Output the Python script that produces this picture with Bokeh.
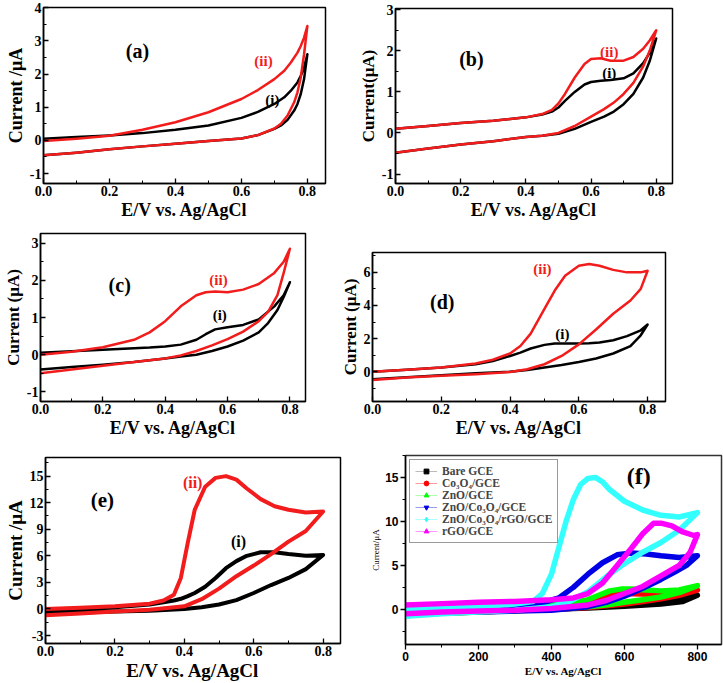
import math
from bokeh.plotting import figure
from bokeh.models import (Range1d, SingleIntervalTicker, NumeralTickFormatter,
                          Label, Legend, LegendItem)
from bokeh.layouts import column, row
from bokeh.embed import file_html
from bokeh.resources import INLINE

SERIF = "Liberation Serif"
SANS = "Liberation Sans"
RED = "#f21c1c"
BLACK = "#000000"
NAN = float("nan")

# ---------------- panel (a) ----------------
A_FWD_V = [0.0, 0.1, 0.2, 0.3, 0.4, 0.5, 0.6, 0.65, 0.7, 0.73, 0.75, 0.77, 0.78, 0.79, 0.80]
A1_FWD = [0.05, 0.10, 0.15, 0.22, 0.32, 0.45, 0.68, 0.86, 1.10, 1.30, 1.50, 1.75, 1.95, 2.20, 2.60]
A2_FWD = [-0.02, 0.05, 0.14, 0.32, 0.55, 0.85, 1.25, 1.52, 1.85, 2.10, 2.35, 2.65, 2.85, 3.10, 3.45]
A_REV_V = [0.80, 0.79, 0.78, 0.77, 0.76, 0.74, 0.72, 0.70, 0.65, 0.60, 0.50, 0.40, 0.30, 0.20, 0.10, 0.0]
A1_REV = [2.60, 1.85, 1.40, 1.10, 0.90, 0.62, 0.45, 0.35, 0.16, 0.06, -0.02, -0.10, -0.18, -0.27, -0.37, -0.45]
A2_REV = [3.45, 2.60, 1.90, 1.45, 1.15, 0.75, 0.50, 0.36, 0.16, 0.06, -0.02, -0.10, -0.18, -0.27, -0.37, -0.45]

# ---------------- panel (b) ----------------
B_FWD_V = [0.0, 0.1, 0.2, 0.3, 0.4, 0.45, 0.48, 0.5, 0.52, 0.55, 0.58, 0.6, 0.63, 0.66, 0.7, 0.73, 0.76, 0.78, 0.8]
B1_FWD = [0.10, 0.17, 0.24, 0.30, 0.38, 0.45, 0.52, 0.62, 0.78, 1.00, 1.18, 1.24, 1.27, 1.29, 1.33, 1.45, 1.70, 1.95, 2.30]
B2_FWD = [0.10, 0.17, 0.24, 0.30, 0.38, 0.46, 0.56, 0.72, 0.95, 1.35, 1.68, 1.80, 1.82, 1.76, 1.76, 1.85, 2.05, 2.25, 2.50]
B_REV_V = [0.8, 0.78, 0.76, 0.73, 0.7, 0.67, 0.64, 0.6, 0.55, 0.5, 0.45, 0.4, 0.3, 0.2, 0.1, 0.0]
B1_REV = [2.30, 1.75, 1.35, 0.95, 0.70, 0.52, 0.40, 0.27, 0.10, -0.02, -0.07, -0.10, -0.20, -0.28, -0.38, -0.48]
B2_REV = [2.50, 2.00, 1.62, 1.22, 0.95, 0.74, 0.58, 0.40, 0.17, 0.00, -0.07, -0.10, -0.20, -0.28, -0.38, -0.48]

# ---------------- panel (c) ----------------
C_FWD_V = [0.0, 0.1, 0.2, 0.3, 0.35, 0.4, 0.45, 0.5, 0.53, 0.56, 0.6, 0.65, 0.7, 0.75, 0.78, 0.8]
C1_FWD = [0.05, 0.09, 0.13, 0.17, 0.19, 0.22, 0.27, 0.40, 0.55, 0.68, 0.74, 0.80, 0.95, 1.30, 1.60, 1.95]
C2_FWD = [0.0, 0.08, 0.20, 0.40, 0.60, 0.90, 1.30, 1.60, 1.68, 1.70, 1.68, 1.75, 1.90, 2.20, 2.50, 2.85]
C_REV_V = [0.8, 0.78, 0.76, 0.73, 0.7, 0.65, 0.6, 0.55, 0.5, 0.45, 0.4, 0.3, 0.2, 0.1, 0.0]
C1_REV = [1.95, 1.55, 1.20, 0.85, 0.60, 0.38, 0.22, 0.10, 0.00, -0.05, -0.10, -0.20, -0.27, -0.33, -0.40]
C2_REV = [2.85, 2.20, 1.60, 1.15, 0.90, 0.62, 0.42, 0.25, 0.10, -0.02, -0.10, -0.20, -0.30, -0.40, -0.50]

# ---------------- panel (d) ----------------
D_FWD_V = [0.0, 0.1, 0.2, 0.3, 0.35, 0.4, 0.43, 0.46, 0.5, 0.53, 0.56, 0.6, 0.63, 0.66, 0.7, 0.74, 0.78, 0.8]
D1_FWD = [0.0, 0.12, 0.25, 0.45, 0.65, 0.95, 1.15, 1.40, 1.62, 1.70, 1.70, 1.70, 1.72, 1.76, 1.90, 2.15, 2.50, 2.85]
D2_FWD = [0.0, 0.12, 0.25, 0.50, 0.72, 1.10, 1.55, 2.30, 3.80, 4.90, 5.80, 6.40, 6.50, 6.40, 6.15, 6.00, 6.00, 6.10]
D_REV_V = [0.8, 0.78, 0.75, 0.7, 0.65, 0.6, 0.55, 0.5, 0.45, 0.4, 0.3, 0.2, 0.1, 0.0]
D1_REV = [2.85, 2.20, 1.55, 1.10, 0.80, 0.58, 0.40, 0.25, 0.10, 0.00, -0.10, -0.22, -0.33, -0.45]
D2_REV = [6.10, 5.00, 4.30, 3.50, 2.55, 1.65, 0.95, 0.45, 0.15, -0.02, -0.15, -0.25, -0.35, -0.50]

# ---------------- panel (e) ----------------
E_FWD_V = [0.0, 0.1, 0.2, 0.3, 0.34, 0.37, 0.39, 0.41, 0.43, 0.46, 0.49, 0.52, 0.55, 0.58, 0.62, 0.66, 0.7, 0.75, 0.8]
E1_FWD = [-0.2, 0.0, 0.2, 0.5, 0.75, 0.95, 1.15, 1.45, 1.8, 2.5, 3.5, 4.6, 5.4, 6.0, 6.4, 6.4, 6.2, 6.0, 6.1]
E2_FWD = [0.0, 0.15, 0.3, 0.6, 0.95, 1.6, 3.5, 7.5, 11.2, 13.8, 14.8, 15.0, 14.6, 13.6, 12.4, 11.6, 11.2, 10.9, 11.0]
E_REV_V = [0.8, 0.75, 0.7, 0.65, 0.6, 0.55, 0.5, 0.45, 0.4, 0.3, 0.2, 0.1, 0.0]
E1_REV = [6.10, 4.50, 3.50, 2.70, 1.80, 1.00, 0.50, 0.20, 0.00, -0.20, -0.30, -0.40, -0.50]
E2_REV = [11.0, 8.8, 7.6, 6.2, 4.9, 3.7, 2.3, 1.1, 0.3, -0.1, -0.3, -0.5, -0.7]

# ---------------- panel (f) (mV) ----------------
F_NAMES = ["Bare GCE", "Co₃O₄/GCE", "ZnO/GCE", "ZnO/Co₃O₄/GCE", "ZnO/Co₃O₄/rGO/GCE", "rGO/GCE"]
F_COLORS = ["#000000", "#ff0000", "#00ff00", "#0000e6", "#33ffff", "#ff00ff"]
F_LEG_LINE = ["#bbbbbb", "#ff9999", "#aaffaa", "#9999ee", "#aaffff", "#ff99ff"]
F_MARKERS = ["square", "circle", "triangle", "inverted_triangle", "diamond", "triangle"]
F_ANGLES = [0, 0, 0, 0, 0, math.pi / 2]

F_BARE_FWD_V = [0, 200, 400, 500, 600, 700, 760, 800]
F_BARE_FWD = [0.0, 0.15, 0.35, 0.5, 0.7, 0.9, 1.2, 1.6]
F_BARE_REV_V = [800, 760, 700, 600, 500, 400, 200, 0]
F_BARE_REV = [1.6, 0.9, 0.6, 0.35, 0.15, 0.0, -0.2, -0.4]

F_CO_FWD_V = [0, 200, 300, 400, 450, 500, 550, 600, 650, 700, 760, 800]
F_CO_FWD = [0.0, 0.2, 0.4, 0.5, 0.6, 0.95, 1.5, 1.8, 1.75, 1.65, 1.8, 2.2]
F_CO_REV_V = [800, 750, 700, 650, 600, 550, 500, 400, 300, 200, 100, 0]
F_CO_REV = [2.2, 1.6, 1.2, 0.9, 0.6, 0.4, 0.2, 0.0, -0.15, -0.3, -0.45, -0.6]

F_ZNO_FWD_V = [0, 200, 300, 400, 450, 500, 530, 560, 590, 620, 660, 700, 750, 800]
F_ZNO_FWD = [0.0, 0.2, 0.4, 0.55, 0.7, 1.1, 1.6, 2.1, 2.3, 2.3, 2.2, 2.1, 2.2, 2.7]
F_ZNO_REV_V = [800, 750, 700, 650, 600, 550, 500, 400, 300, 200, 100, 0]
F_ZNO_REV = [2.7, 1.9, 1.4, 1.1, 0.8, 0.5, 0.3, 0.0, -0.15, -0.3, -0.45, -0.6]

F_ZC_FWD_V = [0, 100, 200, 300, 380, 420, 460, 500, 540, 580, 620, 660, 700, 750, 800]
F_ZC_FWD = [-0.3, -0.05, 0.2, 0.5, 0.8, 1.3, 2.5, 4.0, 5.3, 6.2, 6.4, 6.3, 6.1, 5.9, 6.1]
F_ZC_REV_V = [800, 770, 740, 700, 650, 600, 550, 500, 400, 300, 200, 100, 0]
F_ZC_REV = [6.1, 5.0, 4.3, 3.4, 2.4, 1.5, 0.8, 0.3, -0.1, -0.2, -0.3, -0.4, -0.5]

F_ZCR_FWD_V = [0, 100, 200, 300, 350, 375, 400, 420, 440, 460, 480, 500, 520, 540, 560, 600, 650, 700, 750, 800]
F_ZCR_FWD = [0.0, 0.15, 0.3, 0.6, 0.9, 1.8, 4.0, 7.0, 10.0, 12.5, 14.2, 14.9, 15.0, 14.5, 13.6, 12.3, 11.3, 10.7, 10.5, 11.0]
F_ZCR_REV_V = [800, 750, 700, 650, 600, 550, 500, 450, 400, 300, 200, 100, 0]
F_ZCR_REV = [11.0, 9.0, 7.6, 6.5, 5.2, 3.7, 2.0, 0.9, 0.3, -0.1, -0.3, -0.5, -0.8]

F_RGO_FWD_V = [0, 100, 200, 300, 400, 460, 500, 540, 580, 620, 650, 680, 700, 730, 760, 790, 800]
F_RGO_FWD = [0.5, 0.65, 0.8, 0.9, 1.1, 1.3, 1.8, 3.0, 5.0, 7.0, 8.6, 9.8, 9.8, 9.5, 8.8, 8.4, 8.5]
F_RGO_REV_V = [800, 780, 750, 700, 650, 600, 550, 500, 400, 300, 200, 100, 0]
F_RGO_REV = [8.5, 6.5, 5.0, 3.8, 2.6, 1.8, 1.0, 0.5, 0.1, -0.1, -0.2, -0.3, -0.5]

X_TITLE = "E/V vs. Ag/AgCl"


def base(w, h, xr, yr, mb, xint, yint, xfmt, tick_fs, ylab, ylab_fs, xlab_fs,
         tick_font=SERIF, ticks_out=False, ylab_style="bold"):
    p = figure(width=w, height=h, x_range=Range1d(*xr), y_range=Range1d(*yr),
               output_backend="svg", toolbar_location=None,
               min_border_left=mb[0], min_border_right=mb[1],
               min_border_top=mb[2], min_border_bottom=mb[3])
    p.xgrid.visible = False
    p.ygrid.visible = False
    p.outline_line_color = "black"
    p.outline_line_width = 1.5
    p.outline_line_alpha = 1.0
    p.background_fill_color = "white"
    p.border_fill_color = "white"
    for ax, iv, fmt in ((p.xaxis[0], xint, xfmt), (p.yaxis[0], yint, "0")):
        ax.ticker = SingleIntervalTicker(interval=iv, num_minor_ticks=2)
        ax.formatter = NumeralTickFormatter(format=fmt)
        if ticks_out:
            ax.major_tick_in, ax.major_tick_out = 0, 5
            ax.minor_tick_in, ax.minor_tick_out = 0, 3
        else:
            ax.major_tick_in, ax.major_tick_out = 5, 0
            ax.minor_tick_in, ax.minor_tick_out = 3, 0
        ax.major_tick_line_width = 1.3
        ax.minor_tick_line_width = 1.0
        ax.axis_line_width = 1.5
        ax.major_label_text_font = tick_font
        ax.major_label_text_font_style = "bold"
        ax.major_label_text_font_size = f"{tick_fs}px"
        ax.major_label_text_color = "black"
        ax.major_label_standoff = 2
        ax.axis_label_standoff = 1
        ax.axis_label_text_font = SERIF
        ax.axis_label_text_font_style = "bold"
        ax.axis_label_text_color = "black"
    p.yaxis.axis_label = ylab
    p.yaxis.axis_label_text_font_size = f"{ylab_fs}px"
    p.yaxis.axis_label_text_font_style = ylab_style
    p.xaxis.axis_label = X_TITLE
    p.xaxis.axis_label_text_font_size = f"{xlab_fs}px"
    return p


def loop(p, fv, fi, rv, ri, color, lw):
    p.line(x=fv + rv, y=fi + ri, line_color=color, line_width=lw, line_join="round")


def tag(p, x, y, text, size, color="black"):
    p.add_layout(Label(x=x, y=y, text=text, text_font=SERIF, text_font_style="bold",
                       text_font_size=f"{size}px", text_color=color,
                       text_align="center", text_baseline="middle"))


# (a)
pa = base(355, 222, (0, 0.855), (-1.3, 4.01), (43, 30, 7, 34), 0.2, 1, "0.0", 14,
          "Current /μA", 18, 18)
loop(pa, A_FWD_V, A1_FWD, A_REV_V, A1_REV, BLACK, 2.5)
loop(pa, A_FWD_V, A2_FWD, A_REV_V, A2_REV, RED, 2.5)
tag(pa, 0.285, 2.7, "(a)", 20)
tag(pa, 0.667, 2.4, "(ii)", 15, RED)
tag(pa, 0.694, 1.23, "(i)", 15)

# (b)
pb = base(368, 222, (0, 0.85), (-1.23, 3.03), (35, 51, 8, 34), 0.2, 1, "0.0", 14,
          "Current(μA)", 17, 18)
loop(pb, B_FWD_V, B1_FWD, B_REV_V, B1_REV, BLACK, 2.5)
loop(pb, B_FWD_V, B2_FWD, B_REV_V, B2_REV, RED, 2.5)
tag(pb, 0.233, 1.79, "(b)", 20)
tag(pb, 0.656, 1.98, "(ii)", 15, RED)
tag(pb, 0.656, 1.47, "(i)", 15)

# (c)
pc = base(335, 218, (0, 0.85), (-1.26, 3.26), (38, 30, 11, 35), 0.2, 1, "0.0", 14,
          "Current (μA)", 17, 18)
loop(pc, C_FWD_V, C1_FWD, C_REV_V, C1_REV, BLACK, 2.5)
loop(pc, C_FWD_V, C2_FWD, C_REV_V, C2_REV, RED, 2.5)
tag(pc, 0.254, 1.87, "(c)", 20)
tag(pc, 0.571, 2.0, "(ii)", 15, RED)
tag(pc, 0.575, 1.07, "(i)", 15)

# (d)
pd = base(388, 218, (0, 0.852), (-1.8, 7.2), (37, 58, 30, 35), 0.2, 2, "0.0", 14,
          "Current (μA)", 17, 18)
loop(pd, D_FWD_V, D1_FWD, D_REV_V, D1_REV, BLACK, 2.5)
loop(pd, D_FWD_V, D2_FWD, D_REV_V, D2_REV, RED, 2.5)
tag(pd, 0.203, 4.2, "(d)", 20)
tag(pd, 0.494, 6.2, "(ii)", 15, RED)
tag(pd, 0.552, 2.3, "(i)", 15)

# (e)
pe = base(368, 243, (0, 0.85), (-3.9, 17.1), (45, 28, 17, 35), 0.2, 3, "0.0", 14,
          "Current /μA", 19, 19)
loop(pe, E_FWD_V, E1_FWD, E_REV_V, E1_REV, BLACK, 4)
loop(pe, E_FWD_V, E2_FWD, E_REV_V, E2_REV, RED, 4)
tag(pe, 0.164, 12.3, "(e)", 21)
tag(pe, 0.424, 14.3, "(ii)", 16, RED)
tag(pe, 0.556, 7.6, "(i)", 16)

# (f)
pf = base(355, 243, (0, 866), (-4, 17.5), (36, 2, 15, 39), 200, 5, "0", 12,
          "Current/μA", 9, 11, tick_font=SANS, ticks_out=True, ylab_style="normal")
pf.outline_line_color = "#333333"
F_LOOPS = [
    (F_BARE_FWD_V, F_BARE_FWD, F_BARE_REV_V, F_BARE_REV),
    (F_CO_FWD_V, F_CO_FWD, F_CO_REV_V, F_CO_REV),
    (F_ZNO_FWD_V, F_ZNO_FWD, F_ZNO_REV_V, F_ZNO_REV),
    (F_ZC_FWD_V, F_ZC_FWD, F_ZC_REV_V, F_ZC_REV),
    (F_ZCR_FWD_V, F_ZCR_FWD, F_ZCR_REV_V, F_ZCR_REV),
    (F_RGO_FWD_V, F_RGO_FWD, F_RGO_REV_V, F_RGO_REV),
]
items = []
for (fv, fi, rv, ri), c, lc, m, ang, name in zip(F_LOOPS, F_COLORS, F_LEG_LINE,
                                                 F_MARKERS, F_ANGLES, F_NAMES):
    loop(pf, fv, fi, rv, ri, c, 5.5)
    lr = pf.line(x=[NAN], y=[NAN], line_color=lc, line_width=1)
    sr = pf.scatter(x=[NAN], y=[NAN], marker=m, size=5, angle=ang, fill_color=c, line_color=c)
    items.append(LegendItem(label=name, renderers=[lr, sr]))
leg = Legend(items=items, location="top_left", margin=4, padding=5, spacing=0,
             glyph_width=22, glyph_height=12, label_height=12, label_standoff=5,
             label_text_font=SERIF, label_text_font_style="bold",
             label_text_font_size="11.5px", border_line_color="#333333",
             border_line_width=1, background_fill_alpha=1.0)
pf.add_layout(leg)
tag(pf, 639, 15.2, "(f)", 24)

layout = column(row(column(pa), column(pb)),
                row(column(pc), column(pd)),
                row(column(pe), column(pf)))
open("out.html", "w").write(file_html(layout, INLINE))
